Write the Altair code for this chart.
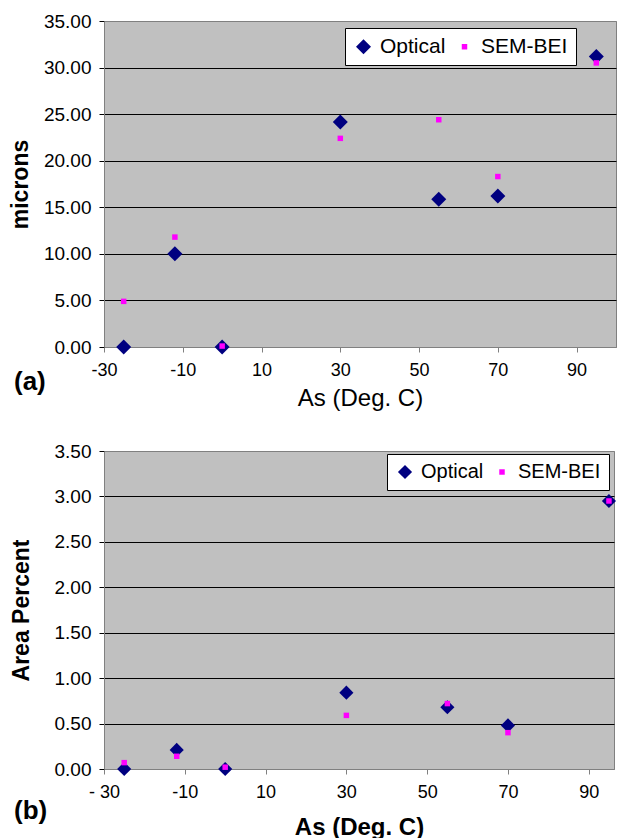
import altair as alt
import pandas as pd

FONT = "Liberation Sans"

# ---- data ----
series_names = ["Optical", "SEM-BEI"]

temps_a = [-25, -12, 0, 30, 55, 70, 95]
optical_a = [0.0, 10.0, 0.0, 24.15, 15.85, 16.2, 31.2]
sem_a = [4.9, 11.8, 0.1, 22.4, 24.4, 18.3, 30.5]

temps_b = [-25, -12, 0, 30, 55, 70, 95]
optical_b = [0.0, 0.21, 0.0, 0.84, 0.68, 0.48, 2.95]
sem_b = [0.07, 0.14, 0.02, 0.59, 0.72, 0.40, 2.95]

x_ticks = [-30, -10, 10, 30, 50, 70, 90]
y_ticks_a = [0, 5, 10, 15, 20, 25, 30, 35]
y_ticks_b = [0, 0.5, 1.0, 1.5, 2.0, 2.5, 3.0, 3.5]

colors = ["#000080", "#FF00FF"]
shapes = ["diamond", "square"]

MINUS = "\u2212"


def make_df(temps, opt, sem):
    return pd.DataFrame({
        "As": temps + temps,
        "value": opt + sem,
        "series": [series_names[0]] * len(temps) + [series_names[1]] * len(temps),
    })


def panel(df, y_title, x_title, bold_x, y_max, y_ticks, width, height, x_max,
          sizes, legend_x, legend_y, legend_font, tag, x_label_pad, x_title_pad,
          y_title_pad, tag_dx, tag_dy, x_label_expr):
    legend = alt.Legend(
        title=None, orient="none", legendX=legend_x, legendY=legend_y,
        direction="horizontal", fillColor="white", strokeColor="#000000",
        padding=8, labelFontSize=legend_font, labelFont=FONT, labelColor="#000000",
        columnPadding=8, labelOffset=6, symbolStrokeWidth=0, labelLimit=300,
        symbolOpacity=1,
    )
    grid_color = {
        "condition": {"test": f"datum.value === 0 || datum.value === {y_max}", "value": "#808080"},
        "value": "#000000",
    }
    return alt.Chart(df).mark_point(filled=True, opacity=1, strokeWidth=0).encode(
        x=alt.X("As:Q", scale=alt.Scale(domain=[-30, x_max], nice=False, zero=False),
                axis=alt.Axis(values=x_ticks, title=x_title, grid=False, tickSize=5,
                              tickColor="#808080", domainColor="#808080",
                              labelFontSize=18, labelFont=FONT, labelColor="#000000",
                              labelPadding=x_label_pad, labelFlush=False,
                              labelExpr=x_label_expr,
                              titleFontSize=24, titleFont=FONT, titleColor="#000000",
                              titleFontWeight="bold" if bold_x else "normal",
                              titlePadding=x_title_pad)),
        y=alt.Y("value:Q", scale=alt.Scale(domain=[0, y_max], nice=False),
                axis=alt.Axis(values=y_ticks, format=".2f", title=y_title,
                              gridColor=grid_color, gridWidth=1, tickSize=5,
                              tickColor="#000000", domainColor="#808080",
                              labelFontSize=19, labelFont=FONT, labelColor="#000000",
                              labelPadding=8, titleFontSize=23, titleFont=FONT,
                              titleFontWeight="bold", titleColor="#000000",
                              titlePadding=y_title_pad)),
        color=alt.Color("series:N", scale=alt.Scale(domain=series_names, range=colors), legend=legend),
        shape=alt.Shape("series:N", scale=alt.Scale(domain=series_names, range=shapes), legend=legend),
        size=alt.Size("series:N", scale=alt.Scale(domain=series_names, range=sizes), legend=legend),
    ).properties(
        width=width, height=height,
        title=alt.TitleParams(tag, orient="bottom", anchor="start", frame="group",
                              fontSize=26, fontWeight="bold", font=FONT, color="#000000",
                              dx=tag_dx, dy=tag_dy),
    )


label_fix = f"replace(datum.label, '{MINUS}', '-')"

top = panel(make_df(temps_a, optical_a, sem_a), "microns", "As (Deg. C)", False, 35,
            y_ticks_a, 512, 326, 100, [225, 30], 241, 7, 21, "(a)", 9, 7, 11, -90, -45,
            label_fix)
bottom = panel(make_df(temps_b, optical_b, sem_b), "Area Percent", "As (Deg. C)", True, 3.5,
               y_ticks_b, 510, 318, 96.25, [200, 30], 283, 3, 20, "(b)", 9, 14, 21, -90, -45,
               f"datum.value == -30 ? '- 30' : {label_fix}")

chart = alt.vconcat(top, bottom, spacing=30).resolve_scale(
    color="independent", shape="independent", size="independent"
).configure(
    padding={"left": 0, "top": 3, "right": 0, "bottom": 0},
    background="white",
).configure_view(fill="#C0C0C0", stroke="#808080", strokeWidth=1)

chart.save("out.html", embed_options={"renderer": "svg", "actions": False})
